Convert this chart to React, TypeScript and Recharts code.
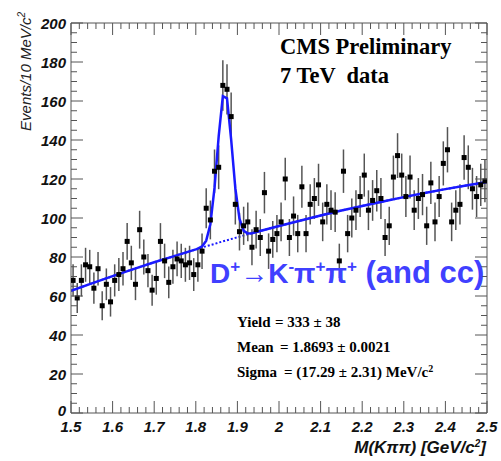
import { ComposedChart, ErrorBar, Line, Scatter, XAxis, YAxis } from 'recharts'

// K pi pi invariant mass, 10 MeV bins from 1.50 to 2.50 GeV/c^2
const BIN_LOW = 1.5
const BIN_WIDTH = 0.01
const COUNTS = [
  68, 59, 68, 76, 75, 64, 74, 55, 66, 57,
  68, 71, 74, 88, 77, 66, 94, 80, 73, 63,
  69, 88, 78, 67, 75, 79, 78, 76, 77, 71,
  76, 83, 105, 99, 124, 126, 168, 166, 152, 107,
  93, 96, 98, 85, 94, 90, 113, 83, 89, 92,
  98, 120, 90, 101, 92, 116, 92, 107, 110, 117,
  98, 107, 104, 103, 78, 124, 92, 100, 104, 111,
  122, 104, 109, 114, 110, 90, 96, 121, 132, 122,
  111, 121, 104, 110, 112, 96, 118, 98, 111, 128,
  135, 98, 104, 107, 131, 126, 115, 111, 117, 119,
]

// fit: gaussian signal on a smooth background
const FIT_MASS = [
  1.5, 1.55, 1.6, 1.65, 1.7, 1.75, 1.8, 1.805, 1.815, 1.825, 1.835, 1.845, 1.855,
  1.865, 1.875, 1.885, 1.895, 1.905, 1.915, 1.925, 1.935, 1.95, 2.0, 2.05, 2.1,
  2.15, 2.2, 2.25, 2.3, 2.35, 2.4, 2.45, 2.5,
]
const FIT_TOTAL = [
  62.7, 66.5, 70.2, 73.8, 77.3, 80.6, 83.9, 84.3, 85.4, 88.4, 96.8, 115.4, 141.9,
  162.5, 161.4, 140.2, 115.3, 99.6, 93.4, 92.1, 92.2, 93.1, 95.9, 98.6, 101.3,
  103.8, 106.2, 108.5, 110.7, 112.8, 114.8, 116.7, 118.5,
]
const FIT_BKG = [
  62.7, 66.5, 70.2, 73.8, 77.3, 80.6, 83.9, 84.2, 84.9, 85.5, 86.1, 86.7, 87.4,
  88.0, 88.6, 89.2, 89.8, 90.4, 91.0, 91.6, 92.2, 93.1, 95.9, 98.6, 101.3,
  103.8, 106.2, 108.5, 110.7, 112.8, 114.8, 116.7, 118.5,
]

const X_MAJOR = [1.5, 1.6, 1.7, 1.8, 1.9, 2, 2.1, 2.2, 2.3, 2.4, 2.5]
const Y_MAJOR = [0, 20, 40, 60, 80, 100, 120, 140, 160, 180, 200]

const points = COUNTS.map((n, i) => ({
  m: +(BIN_LOW + (i + 0.5) * BIN_WIDTH).toFixed(3),
  n,
  err: Math.sqrt(n), // poisson errors
}))
const fit = FIT_MASS.map((m, i) => ({ m, total: FIT_TOTAL[i], bkg: FIT_BKG[i] }))

// 5 sub-divisions on x, 4 on y
const xTicks = X_MAJOR.flatMap((v, i) =>
  i === X_MAJOR.length - 1 ? [v] : [0, 1, 2, 3, 4].map((k) => +(v + k * 0.02).toFixed(2)),
)
const yTicks = Y_MAJOR.flatMap((v, i) =>
  i === Y_MAJOR.length - 1 ? [v] : [0, 1, 2, 3].map((k) => v + k * 5),
)

const FRAME = '#555'
const BLUE = '#1a1aff'
const tickFont = {
  fontFamily: 'Liberation Sans, Arial, sans-serif',
  fontWeight: 700,
  fontStyle: 'italic',
  fontSize: 15,
  fill: '#111',
}

function LeftTick({ x, y, payload }: any) {
  const major = Y_MAJOR.includes(payload.value)
  // the zero label sits a little higher so it clears the first x label
  const lift = payload.value === 0 ? 3 : 0
  return (
    <g>
      <line x1={x} x2={x + (major ? 12 : 6)} y1={y} y2={y} stroke={FRAME} />
      {major && (
        <text x={x - 5} y={y + 5.5 - lift} textAnchor="end" style={tickFont}>
          {payload.value}
        </text>
      )}
    </g>
  )
}

function RightTick({ x, y, payload }: any) {
  const major = Y_MAJOR.includes(payload.value)
  return <line x1={x} x2={x - (major ? 12 : 6)} y1={y} y2={y} stroke={FRAME} />
}

function BottomTick({ x, y, payload }: any) {
  const major = X_MAJOR.includes(payload.value)
  return (
    <g>
      <line x1={x} x2={x} y1={y} y2={y - (major ? 12 : 6)} stroke={FRAME} />
      {major && (
        <text x={x} y={y + 19} textAnchor="middle" style={tickFont}>
          {String(payload.value)}
        </text>
      )}
    </g>
  )
}

function TopTick({ x, y, payload }: any) {
  const major = X_MAJOR.includes(payload.value)
  return <line x1={x} x2={x} y1={y} y2={y + (major ? 12 : 6)} stroke={FRAME} />
}

const serif = { fontFamily: 'Liberation Serif, Times New Roman, serif', fontWeight: 700, fill: '#000' }

export default function App() {
  return (
    <div style={{ position: 'absolute', left: 0, top: 0, width: 501, height: 461, background: '#fff' }}>
      {/* plot frame spans x 71..487, y 23..413 */}
      <ComposedChart width={501} height={461} data={points} margin={{ top: 22, right: 13, bottom: 47, left: 70 }}>
        <XAxis
          dataKey="m"
          type="number"
          domain={[1.5, 2.5]}
          allowDataOverflow
          ticks={xTicks}
          interval={0}
          height={1}
          tickSize={0}
          tickMargin={0}
          tickLine={false}
          stroke={FRAME}
          tick={<BottomTick />}
        />
        <XAxis
          xAxisId="top"
          orientation="top"
          dataKey="m"
          type="number"
          domain={[1.5, 2.5]}
          allowDataOverflow
          ticks={xTicks}
          interval={0}
          height={1}
          tickSize={0}
          tickMargin={0}
          tickLine={false}
          stroke={FRAME}
          tick={<TopTick />}
        />
        <YAxis
          type="number"
          domain={[0, 200]}
          allowDataOverflow
          ticks={yTicks}
          interval={0}
          width={1}
          tickSize={0}
          tickMargin={0}
          tickLine={false}
          stroke={FRAME}
          tick={<LeftTick />}
        />
        <YAxis
          yAxisId="right"
          orientation="right"
          type="number"
          domain={[0, 200]}
          allowDataOverflow
          ticks={yTicks}
          interval={0}
          width={1}
          tickSize={0}
          tickMargin={0}
          tickLine={false}
          stroke={FRAME}
          tick={<RightTick />}
        />
        <Line
          data={fit}
          dataKey="bkg"
          type="linear"
          stroke={BLUE}
          strokeWidth={2}
          strokeDasharray="2 2"
          dot={false}
          activeDot={false}
          isAnimationActive={false}
        />
        <Scatter
          dataKey="n"
          isAnimationActive={false}
          shape={(p: any) => <rect x={p.cx - 2.5} y={p.cy - 2.5} width={5} height={5} fill="#000" />}
        >
          <ErrorBar dataKey="err" direction="y" width={0} stroke="#555" strokeWidth={1.5} />
        </Scatter>
        <Line
          data={fit}
          dataKey="total"
          type="linear"
          stroke={BLUE}
          strokeWidth={2.5}
          dot={false}
          activeDot={false}
          isAnimationActive={false}
        />
      </ComposedChart>

      <svg width={501} height={461} style={{ position: 'absolute', left: 0, top: 0, pointerEvents: 'none' }}>
        <text
          x={31}
          y={12}
          transform="rotate(-90 31 12)"
          textAnchor="end"
          style={{ fontFamily: 'Liberation Sans, Arial, sans-serif', fontStyle: 'italic', fontSize: 15, fill: '#222' }}
        >
          Events/10 MeV/c
          <tspan dy={-6} fontSize={10}>2</tspan>
        </text>
        <text
          x={486}
          y={453}
          textAnchor="end"
          style={{ fontFamily: 'Liberation Sans, Arial, sans-serif', fontStyle: 'italic', fontWeight: 700, fontSize: 17, fill: '#111' }}
        >
          M(Kππ) [GeV/c<tspan dy={-6} fontSize={10}>2</tspan>
          <tspan dy={6}>]</tspan>
        </text>

        <text x={280} y={54} style={{ ...serif, fontSize: 22.5 }}>CMS Preliminary</text>
        <text x={280} y={83} style={{ ...serif, fontSize: 22.5, whiteSpace: 'pre' }}>7 TeV  data</text>

        <text
          x={210}
          y={283}
          style={{ fontFamily: 'Liberation Sans, Arial, sans-serif', fontWeight: 700, fontSize: 28, fill: '#4040ff' }}
        >
          D<tspan dy={-11} fontSize={17}>+</tspan>
          <tspan dy={11}>→K</tspan>
          <tspan dy={-11} fontSize={17}>-</tspan>
          <tspan dy={11}>π</tspan>
          <tspan dy={-11} fontSize={17}>+</tspan>
          <tspan dy={11}>π</tspan>
          <tspan dy={-11} fontSize={17}>+</tspan>
          <tspan dy={11} fontSize={31}> (and cc)</tspan>
        </text>

        <text x={237} y={327} style={{ ...serif, fontSize: 15 }}>
          Yield<tspan x={275}>= 333 ± 38</tspan>
        </text>
        <text x={237} y={352} style={{ ...serif, fontSize: 15 }}>
          Mean<tspan x={280}>= 1.8693 ± 0.0021</tspan>
        </text>
        <text x={237} y={377} style={{ ...serif, fontSize: 15 }}>
          Sigma<tspan x={284}>= (17.29 ± 2.31) MeV/c</tspan>
          <tspan dy={-5} fontSize={10}>2</tspan>
        </text>
      </svg>
    </div>
  )
}
